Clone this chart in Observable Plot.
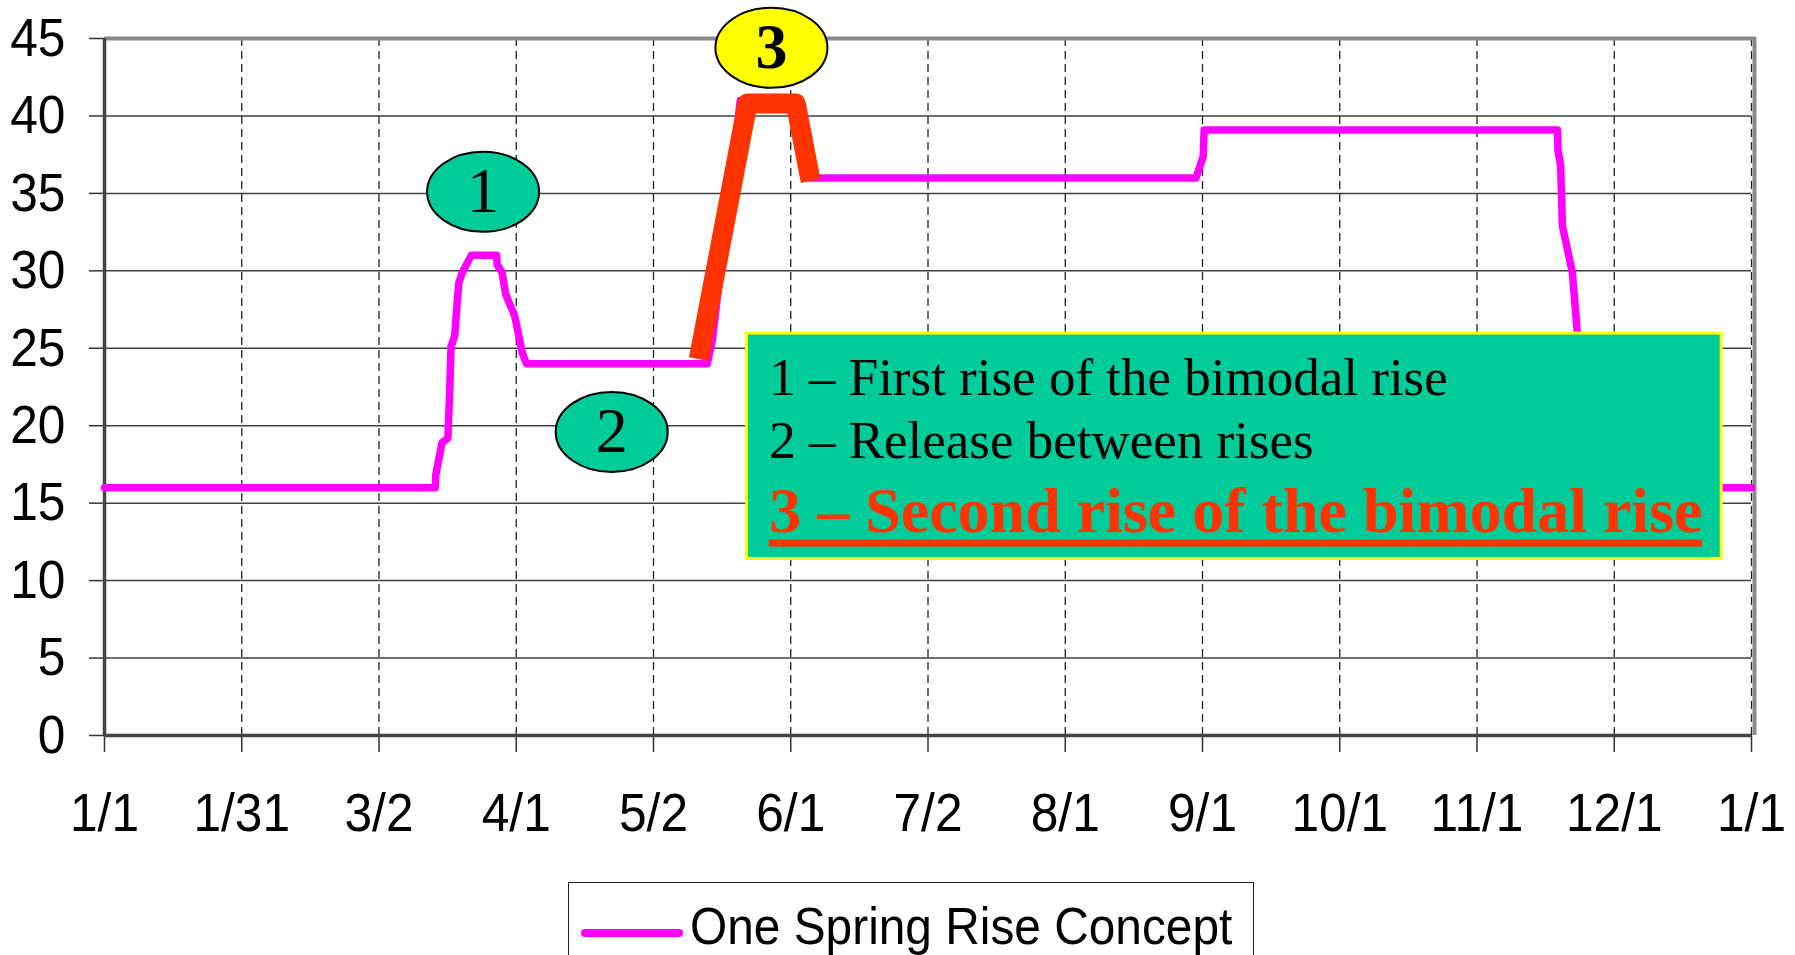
<!DOCTYPE html>
<html>
<head>
<meta charset="utf-8">
<script src="https://cdn.jsdelivr.net/npm/d3@7"></script>
<script src="https://cdn.jsdelivr.net/npm/@observablehq/plot@0.6"></script>
<style>
html, body { margin: 0; padding: 0; background: #fff; }
#wrap { position: relative; width: 1795px; height: 955px; overflow: hidden; background: #fff; }
#chart { position: absolute; left: 0; top: 0; }
#legend { position: absolute; left: 568px; top: 882px; width: 686px; height: 110px; border: 1.5px solid #222; box-sizing: border-box; background: #fff; }
</style>
</head>
<body>
<div id="wrap"><div id="chart"></div><div id="legend"></div></div>
<script>
// ---- data ----
const xLabels = ["1/1", "1/31", "3/2", "4/1", "5/2", "6/1", "7/2", "8/1", "9/1", "10/1", "11/1", "12/1", "1/1"];
const yTicks = [0, 5, 10, 15, 20, 25, 30, 35, 40, 45];
const seriesName = "One Spring Rise Concept";

// day of year (0 = 1/1) and value of the magenta series
const springDay = [0, 73.3, 73.4, 74.8, 76.1, 76.5, 76.8, 77.6, 78.5, 79.3, 81.3, 86.9, 87.0, 88.1, 88.9, 89.6, 90.9, 92.6, 93.5,
  133.6, 134.7, 140.9, 153.0, 156.3, 241.9, 243.5, 243.7, 322.0, 322.1, 322.7, 323.1, 325.3, 326.4, 327.6, 329.0, 330.0, 365];
const springFlow = [16.0, 16.0, 16.8, 18.9, 19.2, 22.2, 25.1, 25.8, 29.2, 29.9, 31.0, 31.0, 30.4, 29.9, 28.5, 28.0, 27.1, 24.7, 24.0,
  24.0, 25.5, 41.0, 41.0, 36.0, 36.0, 37.4, 39.1, 39.1, 37.8, 36.8, 32.9, 29.9, 26.0, 22.0, 18.0, 16.0, 16.0];

// highlighted second rise (red)
const secondDay = [131.7, 142.5, 153.2, 156.5];
const secondFlow = [24.3, 40.8, 40.8, 35.8];

// numbered callouts
const calloutLabel = ["1", "2", "3"];
const calloutDay = [83.9, 112.4, 147.8];
const calloutFlow = [35.1, 19.6, 44.4];

// note box
const noteLines = ["1 – First rise of the bimodal rise", "2 – Release between rises", "3 – Second rise of the bimodal rise"];
const noteDay = 147.3;
const noteFlow = [22.0, 17.93, 13.13];
const boxDay = [142.4, 358.4];
const boxFlow = [11.4, 25.95];

// ---- build ----
const xTicks = xLabels.map((_, i) => i * 365 / 12);
const spring = springDay.map((d, i) => ({day: d, flow: springFlow[i]}));
const second = secondDay.map((d, i) => ({day: d, flow: secondFlow[i]}));
const callouts = calloutLabel.map((label, i) => ({label, day: calloutDay[i], flow: calloutFlow[i]}));
const notes = noteLines.map((text, i) => ({text, day: noteDay, flow: noteFlow[i]}));
const boxes = [{x1: boxDay[0], x2: boxDay[1], y1: boxFlow[0], y2: boxFlow[1]}];

const serif = "'Liberation Serif', 'Times New Roman', serif";
const sans = "'Liberation Sans', Arial, sans-serif";

const ellipse = {
  draw(ctx) {
    const rx = 56, ry = 40, k = 0.5523;
    ctx.moveTo(rx, 0);
    ctx.bezierCurveTo(rx, k * ry, k * rx, ry, 0, ry);
    ctx.bezierCurveTo(-k * rx, ry, -rx, k * ry, -rx, 0);
    ctx.bezierCurveTo(-rx, -k * ry, -k * rx, -ry, 0, -ry);
    ctx.bezierCurveTo(k * rx, -ry, rx, -k * ry, rx, 0);
    ctx.closePath();
  }
};

const plot = Plot.plot({
  width: 1795,
  height: 870,
  marginLeft: 104,
  marginRight: 44,
  marginTop: 38,
  marginBottom: 135,
  style: {fontFamily: sans, fontSize: "54px", color: "#000", background: "#fff", overflow: "visible"},
  x: {domain: [0, 365], ticks: xTicks, tickFormat: d => xLabels[Math.round(d * 12 / 365)], tickSize: 17, tickPadding: 40, label: null},
  y: {domain: [0, 45], ticks: yTicks, tickSize: 15, tickPadding: 24, label: null},
  marks: [
    Plot.ruleY(yTicks.filter(v => v > 0 && v < 45), {stroke: "#404040", strokeWidth: 1.5}),
    Plot.ruleX(xTicks.slice(1), {stroke: "#222", strokeWidth: 1.3, strokeDasharray: "8,5"}),
    Plot.ruleY([45], {stroke: "#8a8a8a", strokeWidth: 4, insetRight: -5}),
    Plot.ruleX([365], {dx: 3, stroke: "#8a8a8a", strokeWidth: 4}),
    Plot.ruleX([0], {stroke: "#444", strokeWidth: 3.5}),
    Plot.ruleY([0], {stroke: "#444", strokeWidth: 3.5}),
    Plot.line(spring, {x: "day", y: "flow", stroke: "#FF00FF", strokeWidth: 7.5, strokeLinejoin: "round", strokeLinecap: "round"}),
    Plot.line(second, {x: "day", y: "flow", stroke: "#FF3300", strokeWidth: 20, strokeLinejoin: "round", strokeLinecap: "butt"}),
    Plot.rect(boxes, {x1: "x1", x2: "x2", y1: "y1", y2: "y2", fill: "#00CC99", stroke: "#FFFF00", strokeWidth: 3}),
    Plot.text(notes.slice(0, 2), {x: "day", y: "flow", text: "text", textAnchor: "start", lineAnchor: "bottom", fontFamily: serif, fontSize: 53, fill: "#000"}),
    Plot.text(notes.slice(2), {x: "day", y: "flow", text: "text", textAnchor: "start", lineAnchor: "bottom", fontFamily: serif, fontSize: 64, fontWeight: "bold", fill: "#FF3300"}),
    Plot.dot(callouts.slice(0, 2), {x: "day", y: "flow", r: 40, symbol: ellipse, fill: "#00CC99", stroke: "#000", strokeWidth: 2}),
    Plot.dot(callouts.slice(2), {x: "day", y: "flow", r: 40, symbol: ellipse, fill: "#FFFF00", stroke: "#000", strokeWidth: 2}),
    Plot.text(callouts.slice(0, 2), {x: "day", y: "flow", text: "label", fontFamily: serif, fontSize: 64, fill: "#000"}),
    Plot.text(callouts.slice(2), {x: "day", y: "flow", text: "label", fontFamily: serif, fontSize: 64, fontWeight: "bold", fill: "#000"})
  ]
});

document.getElementById("chart").appendChild(plot);

// condense axis tick labels horizontally (narrow Arial look)
function condense(el, sx) {
  const t = el.getAttribute("transform") || "";
  const x = +(el.getAttribute("x") || 0);
  el.setAttribute("transform", `${t} translate(${x},0) scale(${sx},1) translate(${-x},0)`);
}
d3.select(plot).selectAll('g[aria-label="x-axis tick label"] text, g[aria-label="y-axis tick label"] text').each(function() { condense(this, 0.92); });
d3.select(plot).selectAll('g[aria-label="x-axis tick"], g[aria-label="y-axis tick"]').attr("stroke", "#333").attr("stroke-width", 1.5);

// underline of the highlighted note line
const xs = plot.scale("x"), ys = plot.scale("y");
d3.select(plot).selectAll("text").each(function() {
  if (this.textContent === noteLines[2]) {
    const len = this.getComputedTextLength();
    d3.select(plot).append("rect")
      .attr("x", xs.apply(noteDay))
      .attr("y", ys.apply(noteFlow[2]) + 8)
      .attr("width", len)
      .attr("height", 7)
      .attr("fill", "#FF3300");
  }
});

// legend
const lg = d3.select("#legend").append("svg").attr("width", 686).attr("height", 110);
lg.append("line").attr("x1", 16).attr("x2", 110).attr("y1", 50).attr("y2", 50)
  .attr("stroke", "#FF00FF").attr("stroke-width", 8).attr("stroke-linecap", "round");
lg.append("text").attr("transform", "translate(121,61) scale(0.92,1)")
  .attr("font-family", sans).attr("font-size", 52).attr("fill", "#000").text(seriesName);
</script>
</body>
</html>
